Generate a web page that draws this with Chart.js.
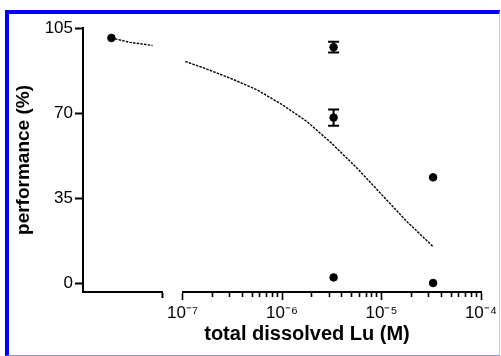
<!DOCTYPE html>
<html>
<head>
<meta charset="utf-8">
<script src="https://cdn.jsdelivr.net/npm/chart.js@4.4.0/dist/chart.umd.min.js"></script>
<style>
  html, body { margin: 0; padding: 0; background: #fff; }
  #wrap { position: relative; width: 501px; height: 356px; overflow: hidden; }
  #frame {
    position: absolute; left: 5px; top: 10px; width: 495px; height: 346px;
    box-sizing: border-box;
    border-top: 4px solid #0000ff; border-left: 4px solid #0000ff;
    border-right: 1px solid #c4c4f4; border-bottom: 1px solid #8c8cf0;
  }
  #chart { position: absolute; left: 0; top: 0; }
</style>
</head>
<body>
<div id="wrap">
  <div id="frame"></div>
  <canvas id="chart" width="501" height="356"></canvas>
</div>
<script>
// control sample, shown on the short segment left of the axis break
const controlConc = [1.93e-8];
const controlPerf = [100.9];

// Lu-treated samples (M, %), with error
const luConc = [3.3e-6, 3.3e-6, 3.3e-6, 3.3e-5, 3.3e-5];
const luPerf = [97.1, 68.1, 2.3, 43.5, 0];
const luErr  = [2.2, 3.3, 0, 0, 0];

// fitted dose-response curve
const fitConcLow = [1.93e-8, 2.95e-8, 5.0e-8];
const fitPerfLow = [100.9, 99.1, 97.8];
const fitConc = [1.07e-7, 1.78e-7, 3.16e-7, 5.62e-7, 1.0e-6, 1.78e-6, 3.16e-6, 5.62e-6, 1.0e-5, 1.78e-5, 3.3e-5];
const fitPerf = [91.2, 88.0, 84.0, 79.5, 73.5, 66.5, 57.5, 47.5, 36.5, 25.5, 15.0];

const yTicks = [0, 35, 70, 105];
const xDecades = [1e-7, 1e-6, 1e-5, 1e-4];
const breakAt = 6.31e-8;

const xTitle = 'total dissolved Lu (M)';
const yTitle = 'performance (%)';

const black = '#000';
const fontFamily = 'Arial, "Liberation Sans", sans-serif';
const tickFont = {family: fontFamily, size: 17};
const titleFont = {family: fontFamily, size: 19, weight: 'bold'};

// minor ticks 2..9 inside every decade
const xMinor = [];
xDecades.slice(0, -1).forEach(d => {
    for (let k = 2; k <= 9; k++) xMinor.push(k * d);
});

const sup = {'-': '\u207B', '0': '\u2070', '1': '\u00B9', '2': '\u00B2', '3': '\u00B3',
             '4': '\u2074', '5': '\u2075', '6': '\u2076', '7': '\u2077', '8': '\u2078', '9': '\u2079'};
const isDecade = v => Math.abs(Math.log10(v) - Math.round(Math.log10(v))) < 1e-6;
const decadeLabel = v => '10' + String(Math.round(Math.log10(v))).split('').map(c => sup[c]).join('');

const pts = (xs, ys) => xs.map((x, i) => ({x: x, y: ys[i]}));

const curveStyle = {
    showLine: true, pointRadius: 0, borderColor: black,
    borderWidth: 1.4, borderDash: [2.5, 1.2], yAxisID: 'y'
};
const dotStyle = {
    showLine: false, pointRadius: 3.8, pointHoverRadius: 3.8,
    backgroundColor: black, borderColor: black, yAxisID: 'y'
};

// error bars as short vertical segments with line caps
const errorBars = luConc
    .map((x, i) => ({
        data: [{x: x, y: luPerf[i] - luErr[i]}, {x: x, y: luPerf[i] + luErr[i]}],
        xAxisID: 'x', yAxisID: 'y',
        showLine: true, borderColor: black, borderWidth: 2,
        pointStyle: 'line', pointRadius: 5.5, pointBorderWidth: 2, pointBorderColor: black
    }))
    .filter((d, i) => luErr[i] > 0);

const xCaption = {
    id: 'xCaption',
    afterDraw(chart) {
        const {ctx, chartArea} = chart;
        ctx.save();
        ctx.font = 'bold 20px ' + fontFamily;
        ctx.fillStyle = black;
        ctx.textAlign = 'center';
        ctx.textBaseline = 'alphabetic';
        ctx.fillText(xTitle, (chartArea.left + chartArea.right) / 2 + 25, chartArea.bottom + 48);
        ctx.restore();
    }
};

const xHeight = s => { s.height = 64; };

new Chart(document.getElementById('chart'), {
    type: 'scatter',
    data: {
        datasets: [
            {...curveStyle, data: pts(fitConcLow, fitPerfLow), xAxisID: 'xLow'},
            {...curveStyle, data: pts(fitConc, fitPerf), xAxisID: 'x'},
            ...errorBars,
            {...dotStyle, data: pts(controlConc, controlPerf), xAxisID: 'xLow'},
            {...dotStyle, data: pts(luConc, luPerf), xAxisID: 'x'}
        ]
    },
    options: {
        responsive: false,
        animation: false,
        layout: { padding: {top: 28, left: 10, right: 20, bottom: 0} },
        plugins: { legend: {display: false}, tooltip: {enabled: false} },
        scales: {
            y: {
                min: -3.7, max: 105,
                afterBuildTicks: s => { s.ticks = yTicks.map(v => ({value: v})); },
                afterFit: s => { s.width = 73; },
                border: {color: black, width: 2},
                grid: {drawOnChartArea: false, tickLength: 8, tickColor: black, tickWidth: 2},
                ticks: {color: black, font: tickFont, padding: 2},
                title: {display: true, text: yTitle, color: black, font: titleFont, padding: {top: 2, bottom: 0}}
            },
            xLow: {
                type: 'logarithmic', axis: 'x', position: 'bottom',
                stack: 'conc', stackWeight: 0.8,
                min: 1e-8, max: breakAt,
                afterBuildTicks: s => { s.ticks = [{value: breakAt}]; },
                afterFit: xHeight,
                border: {color: black, width: 2},
                grid: {drawOnChartArea: false, tickLength: 6, tickColor: black, tickWidth: 2},
                ticks: {display: false}
            },
            xGap: {
                type: 'linear', axis: 'x', position: 'bottom',
                stack: 'conc', stackWeight: 0.2,
                min: 0, max: 1,
                afterFit: xHeight,
                border: {display: false},
                grid: {display: false},
                ticks: {display: false}
            },
            x: {
                type: 'logarithmic', axis: 'x', position: 'bottom',
                stack: 'conc', stackWeight: 3,
                min: 1e-7, max: 1e-4,
                afterBuildTicks: s => {
                    s.ticks = xDecades.concat(xMinor).sort((a, b) => a - b).map(v => ({value: v}));
                },
                afterFit: xHeight,
                border: {color: black, width: 2},
                grid: {
                    drawOnChartArea: false, tickLength: 8, tickColor: black, tickWidth: 1.6,
                    tickBorderDash: ctx => isDecade(ctx.tick.value) ? [] : [4, 20]
                },
                ticks: {
                    color: black, font: tickFont, padding: 3,
                    autoSkip: false, maxRotation: 0,
                    callback: v => isDecade(v) ? decadeLabel(v) : ''
                }
            }
        }
    },
    plugins: [xCaption]
});
</script>
</body>
</html>
